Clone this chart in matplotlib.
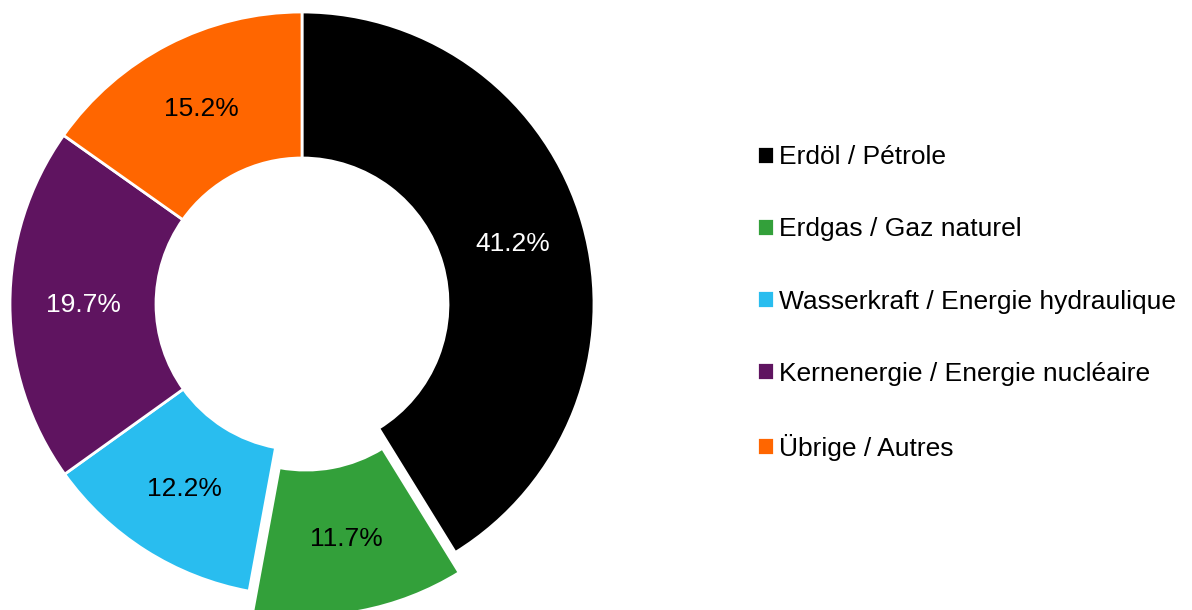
import matplotlib.pyplot as plt
import numpy as np

plt.rcParams['font.family'] = ['Liberation Sans', 'DejaVu Sans']

labels = ['Erdöl / Pétrole', 'Erdgas / Gaz naturel', 'Wasserkraft / Energie hydraulique',
          'Kernenergie / Energie nucléaire', 'Übrige / Autres']
shares = [41.2, 11.7, 12.2, 19.7, 15.2]
colors = ['#000000', '#33a03a', '#29bdef', '#5f1460', '#ff6600']
text_colors = ['white', 'black', 'black', 'white', 'black']
explode = [0, 0.07, 0, 0, 0]

fig = plt.figure(figsize=(11.92, 6.10), dpi=100)
# pie centre at (302, 304) px from top-left, radius 292 px
W, H = 1192, 610
cx, cy, r = 302, 304, 292
lim = 1.2
half = r * lim
ax = fig.add_axes([(cx - half) / W, (H - cy - half) / H, 2 * half / W, 2 * half / H])

wedges, _ = ax.pie(shares, colors=colors, explode=explode, startangle=90, counterclock=False,
                   radius=1, wedgeprops=dict(width=0.5, edgecolor='white', linewidth=2))
ax.set_xlim(-lim, lim)
ax.set_ylim(-lim, lim)
ax.set_aspect('equal')

for w, val, tc, ex in zip(wedges, shares, text_colors, explode):
    ang = np.deg2rad((w.theta1 + w.theta2) / 2)
    rr = 0.75 + ex
    ax.text(rr * np.cos(ang), rr * np.sin(ang), f'{val:.1f}%', ha='center', va='center',
            fontsize=19, color=tc)

ax.legend(wedges, labels, loc='center left', bbox_to_anchor=(757 / W, (H - 303) / H),
          bbox_transform=fig.transFigure, frameon=False, fontsize=19,
          handlelength=0.65, handleheight=0.65, handletextpad=0.18,
          labelspacing=1.82, borderaxespad=0, borderpad=0)

fig.savefig('out.png', dpi=100)
